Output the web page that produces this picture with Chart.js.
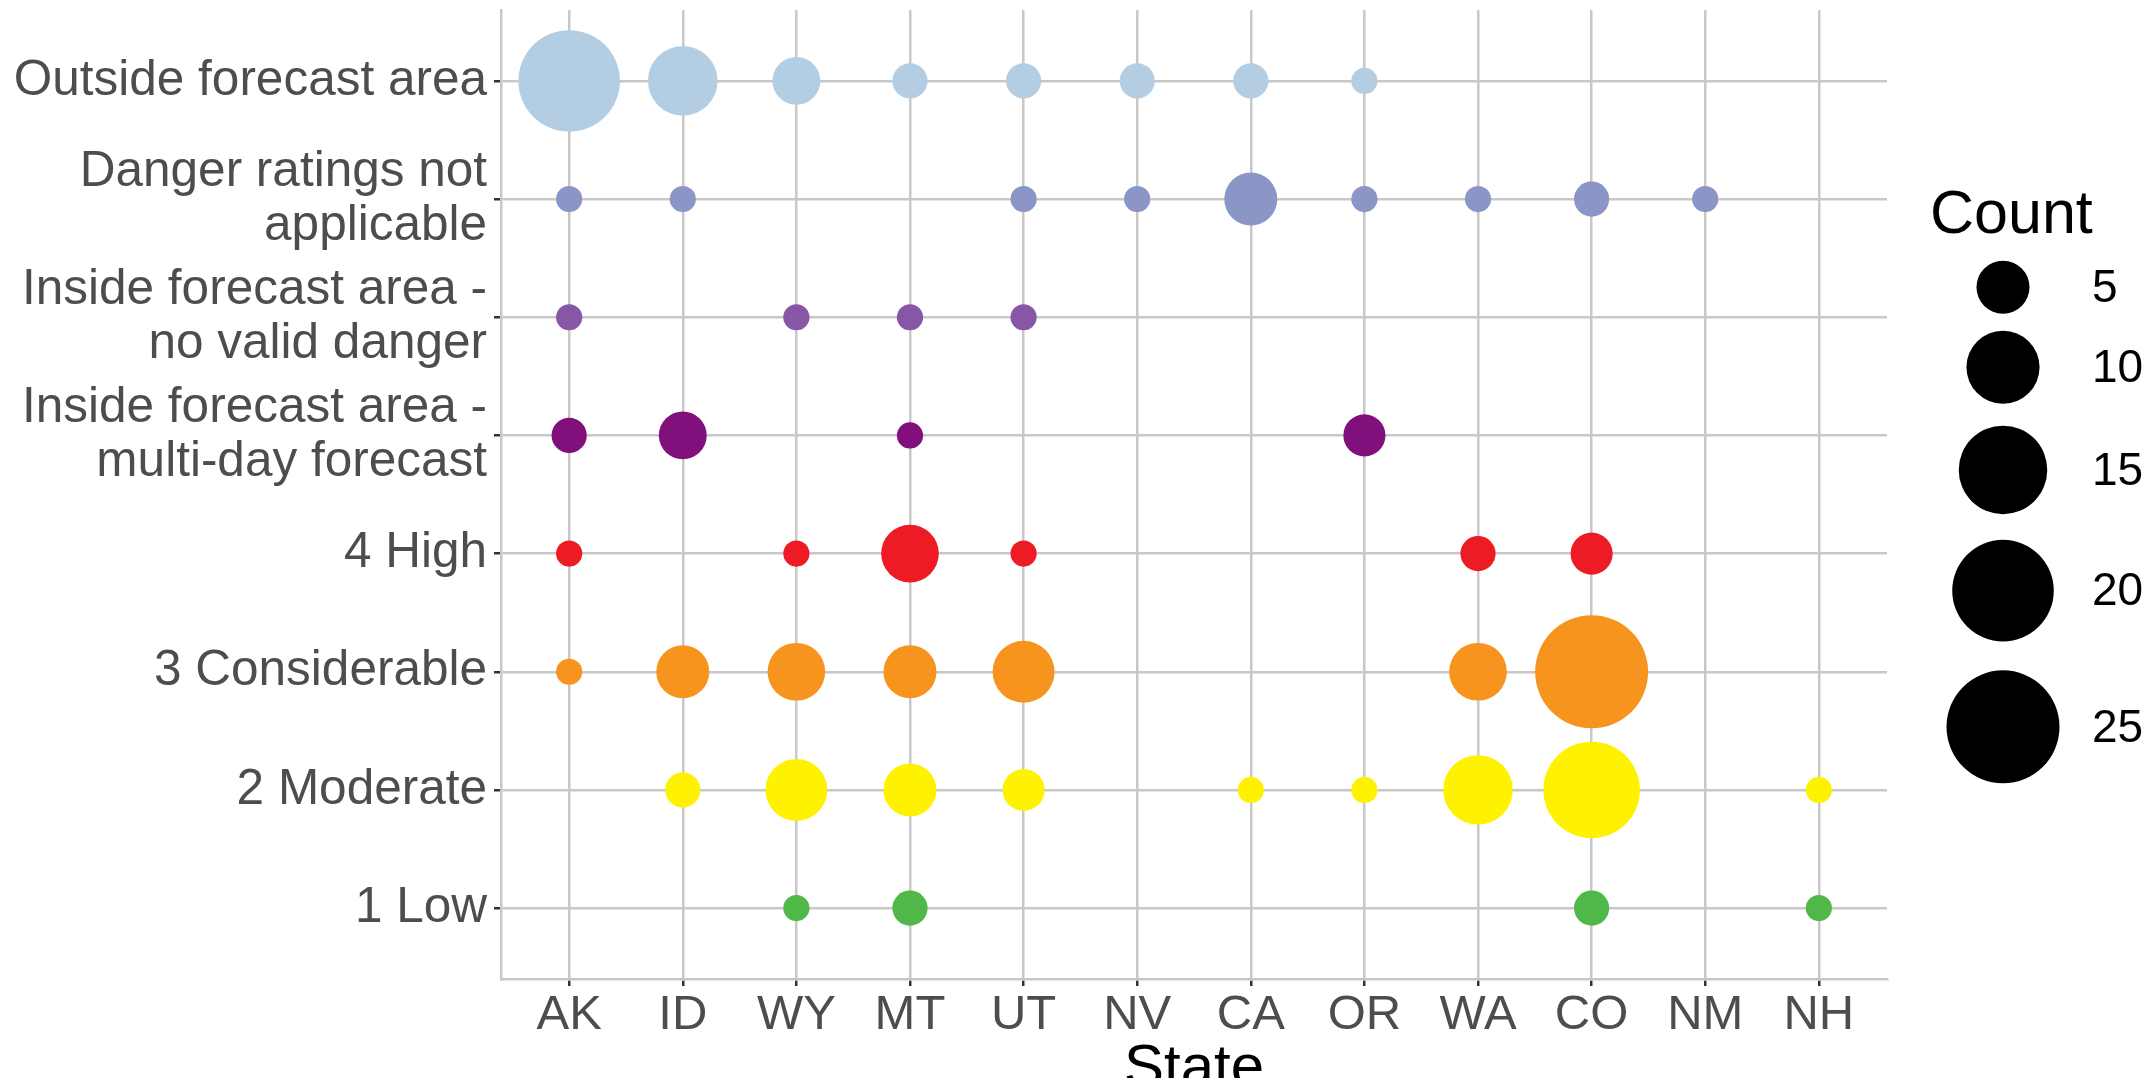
<!DOCTYPE html>
<html>
<head>
<meta charset="utf-8">
<script src="https://cdn.jsdelivr.net/npm/chart.js@4.4.1/dist/chart.umd.min.js"></script>
<style>
  html, body { margin: 0; padding: 0; background: #ffffff; overflow: hidden; }
  canvas { display: block; }
</style>
</head>
<body>
<canvas id="c" width="2152" height="1078"></canvas>
<script>
// ---------------- data ----------------
const states = ['AK', 'ID', 'WY', 'MT', 'UT', 'NV', 'CA', 'OR', 'WA', 'CO', 'NM', 'NH'];

// y categories, bottom to top
const levelLabels = [
  '1 Low',
  '2 Moderate',
  '3 Considerable',
  '4 High',
  ['Inside forecast area -', 'multi-day forecast'],
  ['Inside forecast area -', 'no valid danger'],
  ['Danger ratings not', 'applicable'],
  'Outside forecast area'
];

// counts per state (order of `states`), null = no observation
const lowCounts          = [null, null, 1, 2, null, null, null, null, null, 2, null, 1];
const moderateCounts     = [null, 2, 7, 5, 3, null, 1, 1, 9, 18, null, 1];
const considerableCounts = [1, 5, 6, 5, 7, null, null, null, 6, 25, null, null];
const highCounts         = [1, null, 1, 6, 1, null, null, null, 2, 3, null, null];
const multiDayCounts     = [2, 4, null, 1, null, null, null, 3, null, null, null, null];
const noValidCounts      = [1, null, 1, 1, 1, null, null, null, null, null, null, null];
const notApplicableCounts= [1, 1, null, null, 1, 1, 5, 1, 1, 2, 1, null];
const outsideCounts      = [20, 9, 4, 2, 2, 2, 2, 1, null, null, null, null];

const legendCounts = [5, 10, 15, 20, 25];

// ---------------- styles ----------------
const seriesCounts = [lowCounts, moderateCounts, considerableCounts, highCounts,
                      multiDayCounts, noValidCounts, notApplicableCounts, outsideCounts];
const levelColors = ['#50b848', '#fff200', '#f7941e', '#ed1c24',
                     '#810f7c', '#8856a7', '#8c96c6', '#b3cde3'];

const FONT = "'Liberation Sans', Arial, Helvetica, sans-serif";
const GRID = '#c8c8c8';
const AXIS_TEXT = '#4d4d4d';

// area-style size mapping (diameter in px)
function diameterFor(v) { return 4.5 + 21.7 * Math.sqrt(v); }
function radiusFor(v) { return diameterFor(v) / 2; }

const datasets = seriesCounts.map((counts, li) => ({
  label: typeof levelLabels[li] === 'string' ? levelLabels[li] : levelLabels[li].join(' '),
  data: counts.map((c, si) => (c == null ? null : { x: si, y: li, r: radiusFor(c) }))
              .filter(p => p !== null),
  backgroundColor: levelColors[li],
  borderWidth: 0,
  hoverBorderWidth: 0,
  clip: false
}));

// ---------------- size legend (drawn beside the plot) ----------------
const sizeLegend = {
  id: 'sizeLegend',
  afterDraw(chart) {
    const ctx = chart.ctx;
    ctx.save();
    ctx.fillStyle = '#000000';
    ctx.font = `61px ${FONT}`;
    ctx.textAlign = 'left';
    ctx.textBaseline = 'alphabetic';
    ctx.fillText('Count', 1930, 233);

    const cx = 2003;
    let top = 253.5;
    ctx.font = `46px ${FONT}`;
    ctx.textBaseline = 'middle';
    legendCounts.forEach(v => {
      const d = diameterFor(v);
      const h = d * 1.27;
      const cy = top + h / 2;
      ctx.beginPath();
      ctx.arc(cx, cy, d / 2, 0, Math.PI * 2);
      ctx.fillStyle = '#000000';
      ctx.fill();
      ctx.fillText(String(v), 2092, cy + 2);
      top += h;
    });
    ctx.restore();
  }
};

// ---------------- chart ----------------
new Chart(document.getElementById('c'), {
  type: 'bubble',
  data: { datasets },
  options: {
    responsive: false,
    animation: false,
    events: [],
    layout: { autoPadding: false, padding: { left: 0, right: 265, top: 10, bottom: 0 } },
    plugins: {
      legend: { display: false },
      tooltip: { enabled: false }
    },
    scales: {
      x: {
        type: 'linear',
        min: -0.6,
        max: 11.6,
        afterBuildTicks: s => { s.ticks = states.map((_, i) => ({ value: i })); },
        afterFit: s => { s.height = 99; s.paddingLeft = 0; s.paddingRight = 0; },
        ticks: {
          callback: v => states[v],
          autoSkip: false,
          maxRotation: 0,
          minRotation: 0,
          padding: 0,
          color: AXIS_TEXT,
          font: { family: FONT, size: 49 }
        },
        grid: {
          color: GRID,
          lineWidth: 2.5,
          drawTicks: true,
          tickLength: 7,
          tickColor: '#333333',
          tickWidth: 2.5
        },
        border: { display: true, color: GRID, width: 2.5 },
        title: {
          display: true,
          text: 'State',
          color: '#000000',
          font: { family: FONT, size: 60 },
          padding: { top: 0, bottom: -27 }
        }
      },
      y: {
        type: 'linear',
        min: -0.6,
        max: 7.6,
        afterBuildTicks: s => { s.ticks = levelLabels.map((_, i) => ({ value: i })); },
        afterFit: s => { s.width = 501; s.paddingTop = 0; s.paddingBottom = 0; },
        ticks: {
          callback: v => levelLabels[v],
          autoSkip: false,
          padding: 7,
          color: AXIS_TEXT,
          font: { family: FONT, size: 49.5, lineHeight: 1.1 }
        },
        grid: {
          color: GRID,
          lineWidth: 2.5,
          drawTicks: true,
          tickLength: 7,
          tickColor: '#333333',
          tickWidth: 2.5
        },
        border: { display: true, color: GRID, width: 2.5 }
      }
    }
  },
  plugins: [sizeLegend]
});
</script>
</body>
</html>
